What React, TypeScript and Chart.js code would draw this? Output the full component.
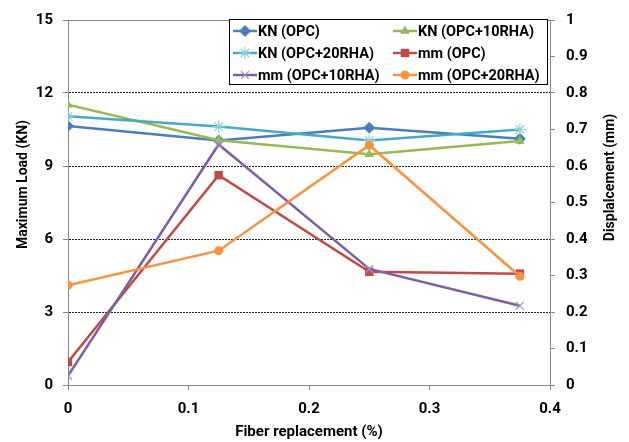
import React, { useEffect, useRef } from 'react';
import { Chart, registerables } from 'chart.js';
import { drawPoint } from 'chart.js/helpers';

Chart.register(...registerables);

// Fiber replacement levels (%)
const fiberReplacement = [0, 0.125, 0.25, 0.375];

// Maximum load (KN), left axis
const loadOPC = [10.64, 10.05, 10.57, 10.12];
const load10RHA = [11.52, 10.06, 9.48, 10.03];
const load20RHA = [11.04, 10.62, 10.05, 10.5];

// Displacement (mm), right axis
const dispOPC = [0.063, 0.575, 0.31, 0.305];
const disp10RHA = [0.025, 0.659, 0.318, 0.217];
const disp20RHA = [0.273, 0.368, 0.657, 0.298];

const seriesLabels = [
  'KN (OPC)',
  'KN (OPC+10RHA)',
  'KN (OPC+20RHA)',
  'mm (OPC)',
  'mm (OPC+10RHA)',
  'mm (OPC+20RHA)',
];

const FONT = 'Roboto';
const AXIS_GREY = '#868686';

const fmt = (v: number) => String(Number(Number(v).toFixed(2)));

const toPoints = (ys: number[]) => ys.map((y, i) => ({ x: fiberReplacement[i], y }));

const legendPlugin = {
  id: 'boxLegend',
  afterDatasetsDraw(chart: any) {
    const { ctx, chartArea } = chart;
    const x0 = chartArea.left + 161;
    const y0 = chartArea.top - 1;
    const w = 318;
    const h = 65;
    ctx.save();
    ctx.fillStyle = '#ffffff';
    ctx.fillRect(x0, y0, w, h);
    ctx.strokeStyle = '#000000';
    ctx.lineWidth = 1;
    ctx.strokeRect(x0 + 0.5, y0 + 0.5, w, h);
    chart.data.datasets.forEach((ds: any, i: number) => {
      const col = i % 2;
      const row = Math.floor(i / 2);
      const lx = x0 + 4 + col * 160;
      const ly = y0 + 12 + row * 22;
      ctx.strokeStyle = ds.borderColor;
      ctx.lineWidth = 2.5;
      ctx.beginPath();
      ctx.moveTo(lx, ly);
      ctx.lineTo(lx + 24, ly);
      ctx.stroke();
      ctx.fillStyle = ds.pointBackgroundColor;
      ctx.strokeStyle = ds.pointBorderColor;
      ctx.lineWidth = ds.pointBorderWidth;
      drawPoint(ctx, { pointStyle: ds.pointStyle, rotation: 0, radius: ds.pointRadius, borderWidth: ds.pointBorderWidth }, lx + 12, ly);
      ctx.fillStyle = '#000000';
      ctx.font = `bold 14.5px ${FONT}`;
      ctx.textAlign = 'left';
      ctx.textBaseline = 'middle';
      ctx.fillText(ds.label, lx + 25, ly + 1);
    });
    ctx.restore();
  },
};

const framePlugin = {
  id: 'frameAndTitles',
  beforeDatasetsDraw(chart: any) {
    const { ctx, chartArea } = chart;
    ctx.save();
    ctx.strokeStyle = AXIS_GREY;
    ctx.lineWidth = 1;
    ctx.beginPath();
    const yTop = Math.round(chartArea.top) + 0.5;
    ctx.moveTo(chartArea.left, yTop);
    ctx.lineTo(chartArea.right, yTop);
    ctx.stroke();
    ctx.restore();
  },
  afterDraw(chart: any) {
    const { ctx, chartArea } = chart;
    const midY = (chartArea.top + chartArea.bottom) / 2;
    const midX = (chartArea.left + chartArea.right) / 2;
    ctx.save();
    ctx.fillStyle = '#000000';
    ctx.textAlign = 'center';
    ctx.textBaseline = 'middle';
    ctx.font = `bold 14px ${FONT}`;

    ctx.save();
    ctx.translate(23, midY - 18);
    ctx.rotate(-Math.PI / 2);
    ctx.fillText('Maximum Load (KN)', 0, 0);
    ctx.restore();

    ctx.save();
    ctx.translate(610, midY - 25);
    ctx.rotate(-Math.PI / 2);
    ctx.fillText('Displalcement (mm)', 0, 0);
    ctx.restore();

    ctx.font = `bold 15px ${FONT}`;
    ctx.fillText('Fiber replacement (%)', midX, 432);
    ctx.restore();
  },
};

export default function App() {
  const canvasRef = useRef<HTMLCanvasElement | null>(null);

  useEffect(() => {
    const canvas = canvasRef.current;
    if (!canvas) return;

    const mk = (
      label: string,
      ys: number[],
      color: string,
      markerFill: string,
      pointStyle: string,
      radius: number,
      axis: string,
      order: number,
      borderW = 0,
    ) => ({
      label,
      data: toPoints(ys),
      yAxisID: axis,
      borderColor: color,
      borderWidth: 2.5,
      backgroundColor: markerFill,
      pointBackgroundColor: markerFill,
      pointBorderColor: borderW ? markerFill : color,
      pointBorderWidth: borderW,
      pointStyle,
      pointRadius: radius,
      tension: 0,
      fill: false,
      order,
    });

    const tickFont = { family: FONT, size: 15, weight: 'bold' };

    const chart = new Chart(canvas, {
      type: 'line',
      data: {
        datasets: [
          mk(seriesLabels[0], loadOPC, '#4A7EBB', '#4A7EBB', 'rectRot', 6, 'y', 5),
          mk(seriesLabels[1], load10RHA, '#98B954', '#98B954', 'triangle', 5.5, 'y', 4),
          mk(seriesLabels[2], load20RHA, '#46AAC5', '#8CD0E2', 'star', 6, 'y', 3, 1.2),
          mk(seriesLabels[3], dispOPC, '#BE4B48', '#BE4B48', 'rect', 6, 'y1', 2),
          mk(seriesLabels[4], disp10RHA, '#7D60A0', '#A592C0', 'crossRot', 5.5, 'y1', 1, 1.2),
          mk(seriesLabels[5], disp20RHA, '#F69240', '#F69240', 'circle', 4.5, 'y1', 0),
        ] as any,
      },
      options: {
        responsive: false,
        animation: false,
        devicePixelRatio: 1,
        layout: { padding: { top: 16, left: 0, right: 0, bottom: 0 } },
        plugins: {
          legend: { display: false },
          tooltip: { enabled: false },
          title: { display: false },
        },
        scales: {
          x: {
            type: 'linear',
            min: 0,
            max: 0.4,
            afterFit: (s: any) => { s.height = 57; },
            ticks: {
              stepSize: 0.1,
              color: '#000',
              font: tickFont,
              padding: 10,
              maxRotation: 0,
              callback: (v: any) => fmt(v),
            },
            grid: { drawOnChartArea: false, drawTicks: true, tickLength: 5, tickColor: AXIS_GREY },
            border: { display: true, color: AXIS_GREY, width: 1 },
          },
          y: {
            type: 'linear',
            position: 'left',
            min: 0,
            max: 15,
            afterFit: (s: any) => { s.width = 68; },
            ticks: {
              stepSize: 3,
              color: '#000',
              font: tickFont,
              padding: 10,
            },
            grid: {
              color: (c: any) => (c.tick && (c.tick.value === 0 || c.tick.value === 15) ? 'rgba(0,0,0,0)' : '#222'),
              lineWidth: 1,
              drawTicks: true,
              tickLength: 5,
              tickColor: AXIS_GREY,
            },
            border: { display: true, color: AXIS_GREY, width: 1, dash: [2, 1] },
          },
          y1: {
            type: 'linear',
            position: 'right',
            min: 0,
            max: 1,
            afterFit: (s: any) => { s.width = 79; },
            ticks: {
              stepSize: 0.1,
              color: '#000',
              font: tickFont,
              padding: 11,
              callback: (v: any) => fmt(v),
            },
            grid: { drawOnChartArea: false, drawTicks: true, tickLength: 5, tickColor: AXIS_GREY },
            border: { display: true, color: AXIS_GREY, width: 1 },
          },
        },
      } as any,
      plugins: [framePlugin, legendPlugin],
    });

    return () => chart.destroy();
  }, []);

  return (
    <div style={{ position: 'absolute', left: 0, top: 0, width: 629, height: 442, background: '#fff' }}>
      <canvas ref={canvasRef} width={629} height={442} style={{ display: 'block' }} />
    </div>
  );
}
